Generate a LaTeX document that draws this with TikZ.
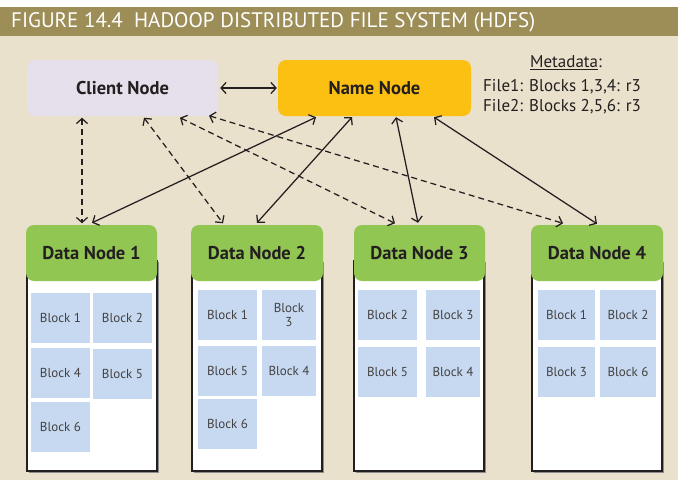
\documentclass[tikz,border=0pt]{standalone}
\usepackage{fontspec}
\setmainfont{PT Sans}
\newfontfamily\titlefont{PT Sans}
\usetikzlibrary{arrows.meta,positioning}
\definecolor{bgc}{HTML}{E9E1CB}
\definecolor{titlec}{HTML}{9D8E58}
\definecolor{clientc}{HTML}{E6E0EC}
\definecolor{namec}{HTML}{FCC012}
\definecolor{greenc}{HTML}{92C653}
\definecolor{blockc}{HTML}{C6D9F0}
\definecolor{inkc}{HTML}{231F20}
\tikzset{
  x=1pt,y=-1pt,
  topbox/.style={rounded corners=8pt, minimum width=192pt, minimum height=56pt, inner sep=0pt, font=\fontsize{18.5}{20}\selectfont\bfseries, text=inkc},
  dnhead/.style={fill=greenc, rounded corners=8pt, minimum height=56pt, inner sep=0pt, font=\fontsize{18.5}{20}\selectfont\bfseries, text=inkc},
  dnbody/.style={fill=white, draw=inkc, line width=1.3pt, inner sep=0pt},
  blk/.style={fill=blockc, minimum height=50pt, inner sep=0pt, font=\fontsize{13}{14}\selectfont, text=inkc!85, align=center},
  link/.style={draw=inkc, line width=1.25pt, {Straight Barb[length=5pt,width=11pt]}-{Straight Barb[length=5pt,width=11pt]}},
  dlink/.style={link, dash pattern=on 6pt off 4pt},
  meta/.style={font=\fontsize{17}{19}\selectfont, text=inkc, inner sep=0pt, anchor=west}
}
\begin{document}
\begin{tikzpicture}
\useasboundingbox (0,0) rectangle (678,480);
\fill[white] (0,0) rectangle (678,480);
\fill[bgc] (0,36) rectangle (678,480);
\fill[titlec] (0,7) rectangle (678,36);
\node[anchor=west, text=white, inner sep=0pt, font=\titlefont\fontsize{21}{23}\selectfont] (title) at (11,22) {FIGURE 14.4\ \ HADOOP DISTRIBUTED FILE SYSTEM (HDFS)};

% top nodes
\node[topbox, fill=clientc, minimum width=191pt] (client) at (122.5,88) {Client Node};
\node[topbox, fill=namec, minimum width=193pt] (name) at (374.5,88) {Name Node};

% metadata
\node[font=\fontsize{17}{19}\selectfont, text=inkc, inner sep=0pt] (mtitle) at (566,63) {\underline{Metadata}:};
\node[meta] (file1) at (483,87) {File1: Blocks 1,3,4: r3};
\node[meta] (file2) at (483,107) {File2: Blocks 2,5,6: r3};

% data node bodies (with shadow)
\foreach \nm/\l/\r in {b1/27/157, b2/192/322, b3/354/484, b4/532/662}{
  \fill[black!45] (\l+1.5,262) rectangle (\r+1.8,472.5);
  \node[dnbody, minimum width={\r-\l}, minimum height=210pt] (\nm) at ({(\l+\r)/2},366) {};
}
% headers
\node[dnhead, minimum width=131pt] (dn1) at (91.5,253) {Data Node 1};
\node[dnhead, minimum width=132pt] (dn2) at (257,253) {Data Node 2};
\node[dnhead, minimum width=131pt] (dn3) at (419.5,253) {Data Node 3};
\node[dnhead, minimum width=132pt] (dn4) at (597,253) {Data Node 4};

% blocks DN1
\node[blk, minimum width=59pt] (a1) at (60.5,318) {Block 1};
\node[blk, minimum width=59pt] (a2) at (122.5,318) {Block 2};
\node[blk, minimum width=59pt] (a4) at (60.5,372.5) {Block 4};
\node[blk, minimum width=59pt] (a5) at (122.5,373.5) {Block 5};
\node[blk, minimum width=59pt] (a6) at (60.5,426.5) {Block 6};
% blocks DN2
\node[blk, minimum width=59pt] (c1) at (227.5,314.5) {Block 1};
\node[blk, minimum width=54pt] (c3) at (289,314.5) {Block\\3};
\node[blk, minimum width=59pt] (c5) at (227.5,370.5) {Block 5};
\node[blk, minimum width=54pt] (c4) at (289,370.5) {Block 4};
\node[blk, minimum width=59pt] (c6) at (227.5,424) {Block 6};
% blocks DN3
\node[blk, minimum width=59pt] (d2) at (387.5,314.5) {Block 2};
\node[blk, minimum width=54pt] (d3) at (453,314.5) {Block 3};
\node[blk, minimum width=59pt] (d5) at (387.5,371.5) {Block 5};
\node[blk, minimum width=54pt] (d4) at (453,371.5) {Block 4};
% blocks DN4
\node[blk, minimum width=57pt] (e1) at (566.5,314.5) {Block 1};
\node[blk, minimum width=56pt] (e2) at (628,314.5) {Block 2};
\node[blk, minimum width=57pt] (e3) at (566.5,371.5) {Block 3};
\node[blk, minimum width=56pt] (e6) at (628,371.5) {Block 6};

% connectors
\draw[link, shorten <=2pt, shorten >=1pt] (client.east) -- (name.west);
% dashed client <-> data nodes
\draw[dlink] ([xshift=-40.5pt,yshift=-1.5pt]client.south) -- ([xshift=-9.5pt,yshift=1.5pt]dn1.north);
\draw[dlink] ([xshift=21.5pt,yshift=-1.5pt]client.south) -- ([xshift=-34pt,yshift=1.5pt]dn2.north);
\draw[dlink] ([xshift=57.5pt,yshift=-1.5pt]client.south) -- ([xshift=-24.5pt,yshift=1.5pt]dn3.north);
\draw[dlink] ([xshift=86.5pt,yshift=0.5pt]client.south) -- ([xshift=-34pt,yshift=1.5pt]dn4.north);
% solid name <-> data nodes
\draw[link] ([xshift=-58.5pt,yshift=-1pt]name.south) -- ([xshift=0.5pt,yshift=2pt]dn1.north);
\draw[link] ([xshift=-22.5pt,yshift=-1pt]name.south) -- ([xshift=0pt,yshift=2pt]dn2.north);
\draw[link] ([xshift=21.5pt,yshift=-1pt]name.south) -- ([xshift=-1.5pt,yshift=2pt]dn3.north);
\draw[link] ([xshift=59.5pt,yshift=-1pt]name.south) -- ([xshift=0pt,yshift=1pt]dn4.north);
\end{tikzpicture}
\end{document}
